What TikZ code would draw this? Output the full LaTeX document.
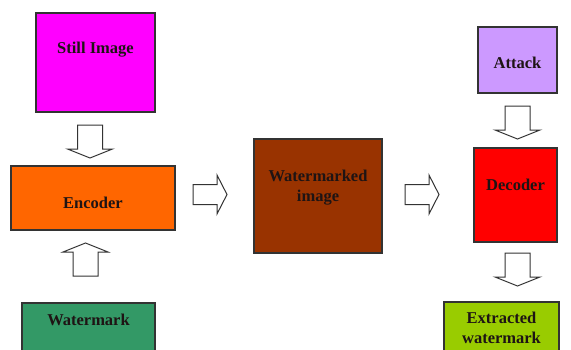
\documentclass[tikz,border=0pt]{standalone}
\usepackage{fontspec}
\setmainfont{Liberation Serif}
\usetikzlibrary{calc}
\definecolor{cStill}{HTML}{FF00FF}
\definecolor{cEnc}{HTML}{FF6600}
\definecolor{cWm}{HTML}{339966}
\definecolor{cWmi}{HTML}{993300}
\definecolor{cAtt}{HTML}{CC99FF}
\definecolor{cDec}{HTML}{FF0000}
\definecolor{cExt}{HTML}{99CC00}
\definecolor{cEdge}{HTML}{333333}
\definecolor{cTxt}{HTML}{1E1414}
\begin{document}
\begin{tikzpicture}[x=1pt,y=-1pt,
  box/.style={draw=cEdge,line width=1.1pt,inner sep=0pt},
  lbl/.style={font=\fontsize{16.5}{20}\selectfont\bfseries,text=cTxt,align=center,inner sep=0pt},
  arrowline/.style={draw=cEdge,fill=white,line width=1pt,line join=miter},
  varrow/.pic={\path[arrowline] (0,-12.5) -- (24,-12.5) -- (24,-22.5) -- (33,0) -- (24,22.5) -- (24,12.5) -- (0,12.5) -- cycle;},
  harrow/.pic={\path[arrowline] (0,-10) -- (24,-10) -- (24,-19.5) -- (34,0) -- (24,19.5) -- (24,10) -- (0,10) -- cycle;}]
\useasboundingbox (0,0) rectangle (571,349);
\clip (0,0) rectangle (571,349);
% boxes
\node[box,fill=cStill,minimum width=119pt,minimum height=99pt] (still) at (95.5,62.5) {};
\node[box,fill=cEnc,minimum width=164pt,minimum height=64pt] (enc) at (93,198) {};
\node[box,fill=cWm,minimum width=133pt,minimum height=70pt] (wm) at (88.5,338) {};
\node[box,fill=cWmi,minimum width=128pt,minimum height=114pt] (wmi) at (318,196) {};
\node[box,fill=cAtt,minimum width=79pt,minimum height=66pt] (att) at (517.5,60) {};
\node[box,fill=cDec,minimum width=83pt,minimum height=94pt] (dec) at (515.5,195) {};
\node[box,fill=cExt,minimum width=115pt,minimum height=70pt] (ext) at (501.5,337) {};
% labels
\node[lbl] (tstill) at (95.5,50) {Still Image};
\node[lbl] (tenc) at (93,203) {Encoder};
\node[lbl] (twm) at (88.5,320) {Watermark};
\node[lbl] (twmi) at (318,187.5) {Watermarked\\image};
\node[lbl] (tatt) at (517.5,63) {Attack};
\node[lbl] (tdec) at (515.5,185) {Decoder};
\node[lbl] (text) at (501.5,327.5) {Extracted\\watermark};
% block arrows
\pic[rotate=-90] at (90,125) {varrow};
\pic[rotate=90] at (85.5,276) {varrow};
\pic at (193,194.5) {harrow};
\pic at (405,194.5) {harrow};
\pic[rotate=-90] at (517.5,106) {varrow};
\pic[rotate=-90] at (517.5,253) {varrow};
\end{tikzpicture}
\end{document}
